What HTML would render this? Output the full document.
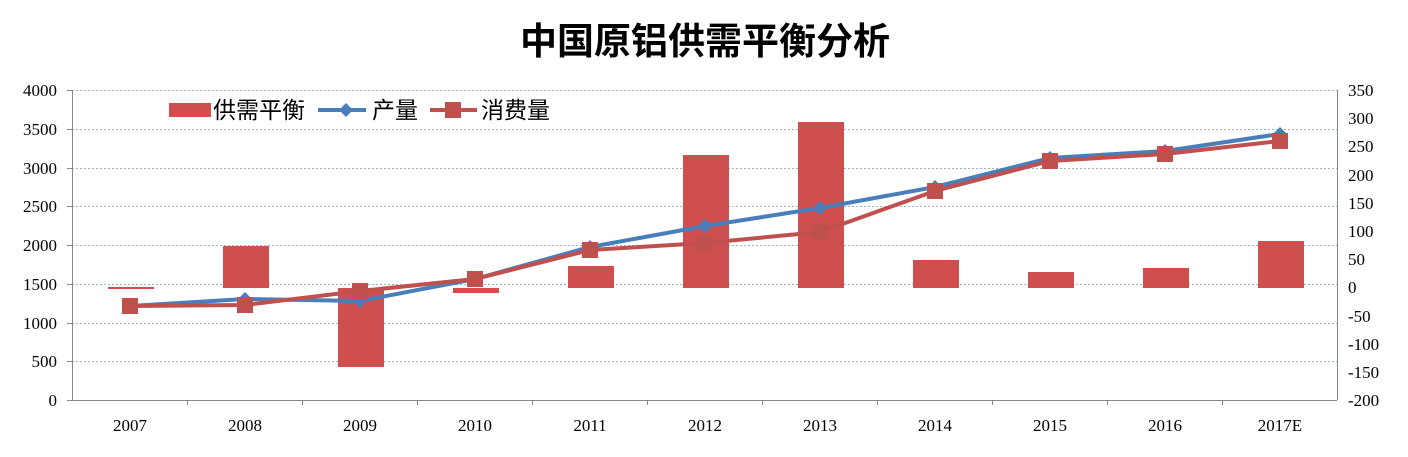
<!DOCTYPE html>
<html><head><meta charset="utf-8"><style>
body{margin:0;background:#fff;}
svg text{font-family:"Liberation Serif","Noto Serif CJK SC",serif;font-size:17px;fill:#000}
</style></head><body>
<svg width="1408" height="452" xmlns="http://www.w3.org/2000/svg">
<text x="705" y="54" text-anchor="middle" style="font-family:'Liberation Sans','Noto Sans CJK SC',sans-serif;font-size:37px;font-weight:bold">中国原铝供需平衡分析</text>
<g stroke="#9db3d4" stroke-dasharray="2,2" stroke-width="1">
<line x1="72" x2="1337" y1="90.5" y2="90.5"/><line x1="72" x2="1337" y1="129.5" y2="129.5"/>
<line x1="72" x2="1337" y1="168.5" y2="168.5"/><line x1="72" x2="1337" y1="206.5" y2="206.5"/>
<line x1="72" x2="1337" y1="245.5" y2="245.5"/><line x1="72" x2="1337" y1="284.5" y2="284.5"/>
<line x1="72" x2="1337" y1="323.5" y2="323.5"/><line x1="72" x2="1337" y1="361.5" y2="361.5"/>
</g>
<g stroke="#888" stroke-width="1">
<line x1="72.5" x2="72.5" y1="90" y2="400"/><line x1="1337.5" x2="1337.5" y1="90" y2="400"/>
<line x1="72" x2="1337" y1="400.5" y2="400.5"/>
<line x1="67" x2="72" y1="90.5" y2="90.5"/><line x1="67" x2="72" y1="129.5" y2="129.5"/><line x1="67" x2="72" y1="168.5" y2="168.5"/><line x1="67" x2="72" y1="206.5" y2="206.5"/><line x1="67" x2="72" y1="245.5" y2="245.5"/><line x1="67" x2="72" y1="284.5" y2="284.5"/><line x1="67" x2="72" y1="323.5" y2="323.5"/><line x1="67" x2="72" y1="361.5" y2="361.5"/><line x1="67" x2="72" y1="400.5" y2="400.5"/>
<line x1="187.5" x2="187.5" y1="400" y2="405"/><line x1="302.5" x2="302.5" y1="400" y2="405"/><line x1="417.5" x2="417.5" y1="400" y2="405"/><line x1="532.5" x2="532.5" y1="400" y2="405"/><line x1="647.5" x2="647.5" y1="400" y2="405"/><line x1="762.5" x2="762.5" y1="400" y2="405"/><line x1="877.5" x2="877.5" y1="400" y2="405"/><line x1="992.5" x2="992.5" y1="400" y2="405"/><line x1="1107.5" x2="1107.5" y1="400" y2="405"/><line x1="1222.5" x2="1222.5" y1="400" y2="405"/>
</g>
<g text-anchor="end">
<text x="57" y="96">4000</text><text x="57" y="135">3500</text><text x="57" y="174">3000</text><text x="57" y="212">2500</text><text x="57" y="251">2000</text><text x="57" y="290">1500</text><text x="57" y="329">1000</text><text x="57" y="367">500</text><text x="57" y="406">0</text>
</g>
<g text-anchor="start">
<text x="1348" y="96">350</text><text x="1348" y="124">300</text><text x="1348" y="152">250</text><text x="1348" y="181">200</text><text x="1348" y="209">150</text><text x="1348" y="237">100</text><text x="1348" y="265">50</text><text x="1348" y="293">0</text><text x="1348" y="322">-50</text><text x="1348" y="350">-100</text><text x="1348" y="378">-150</text><text x="1348" y="406">-200</text>
</g>
<g text-anchor="middle">
<text x="130" y="431">2007</text><text x="245" y="431">2008</text><text x="360" y="431">2009</text><text x="475" y="431">2010</text><text x="590" y="431">2011</text><text x="705" y="431">2012</text><text x="820" y="431">2013</text><text x="935" y="431">2014</text><text x="1050" y="431">2015</text><text x="1165" y="431">2016</text><text x="1280" y="431">2017E</text>
</g>
<g fill="#cf4e4e">
<rect x="108" y="287" width="46" height="2"/>
<rect x="223" y="246" width="46" height="42"/>
<rect x="338" y="288" width="46" height="79"/>
<rect x="453" y="288" width="46" height="5"/>
<rect x="568" y="266" width="46" height="22"/>
<rect x="683" y="155" width="46" height="133"/>
<rect x="798" y="122" width="46" height="166"/>
<rect x="913" y="260" width="46" height="28"/>
<rect x="1028" y="272" width="46" height="16"/>
<rect x="1143" y="268" width="46" height="20"/>
<rect x="1258" y="241" width="46" height="47"/>
</g>
<polyline fill="none" stroke="#4a7ebb" stroke-width="4" points="130,306 245,299 360,301 475,279 590,247 705,226 820,208 935,187 1050,158 1165,151 1280,134"/>
<g fill="#4a7ebb">
<path d="M130,299l7,7l-7,7l-7,-7z"/><path d="M245,292l7,7l-7,7l-7,-7z"/><path d="M360,294l7,7l-7,7l-7,-7z"/><path d="M475,272l7,7l-7,7l-7,-7z"/><path d="M590,240l7,7l-7,7l-7,-7z"/><path d="M705,219l7,7l-7,7l-7,-7z"/><path d="M820,201l7,7l-7,7l-7,-7z"/><path d="M935,180l7,7l-7,7l-7,-7z"/><path d="M1050,151l7,7l-7,7l-7,-7z"/><path d="M1165,144l7,7l-7,7l-7,-7z"/><path d="M1280,127l7,7l-7,7l-7,-7z"/>
</g>
<polyline fill="none" stroke="#c0504d" stroke-width="4" points="130,306 245,305 360,291 475,279 590,250 705,243 820,232 935,191 1050,161 1165,154 1280,141"/>
<g fill="#c0504d">
<rect x="122" y="298" width="16" height="16"/><rect x="237" y="297" width="16" height="16"/><rect x="352" y="283" width="16" height="16"/><rect x="467" y="271" width="16" height="16"/><rect x="582" y="242" width="16" height="16"/><rect x="697" y="235" width="16" height="16"/><rect x="812" y="224" width="16" height="16"/><rect x="927" y="183" width="16" height="16"/><rect x="1042" y="153" width="16" height="16"/><rect x="1157" y="146" width="16" height="16"/><rect x="1272" y="133" width="16" height="16"/>
</g>
<rect x="169" y="103" width="42" height="14" fill="#cf4e4e"/>
<text x="213" y="118" style="font-family:'Liberation Sans','Noto Sans CJK SC',sans-serif;font-size:23px">供需平衡</text>
<line x1="318" x2="366" y1="110" y2="110" stroke="#4a7ebb" stroke-width="4"/>
<path d="M346,103l7,7l-7,7l-7,-7z" fill="#4a7ebb"/>
<text x="372" y="118" style="font-family:'Liberation Sans','Noto Sans CJK SC',sans-serif;font-size:23px">产量</text>
<line x1="430" x2="477" y1="110" y2="110" stroke="#c0504d" stroke-width="4"/>
<rect x="445" y="102" width="16" height="16" fill="#c0504d"/>
<text x="481" y="118" style="font-family:'Liberation Sans','Noto Sans CJK SC',sans-serif;font-size:23px">消费量</text>
</svg>
</body></html>
